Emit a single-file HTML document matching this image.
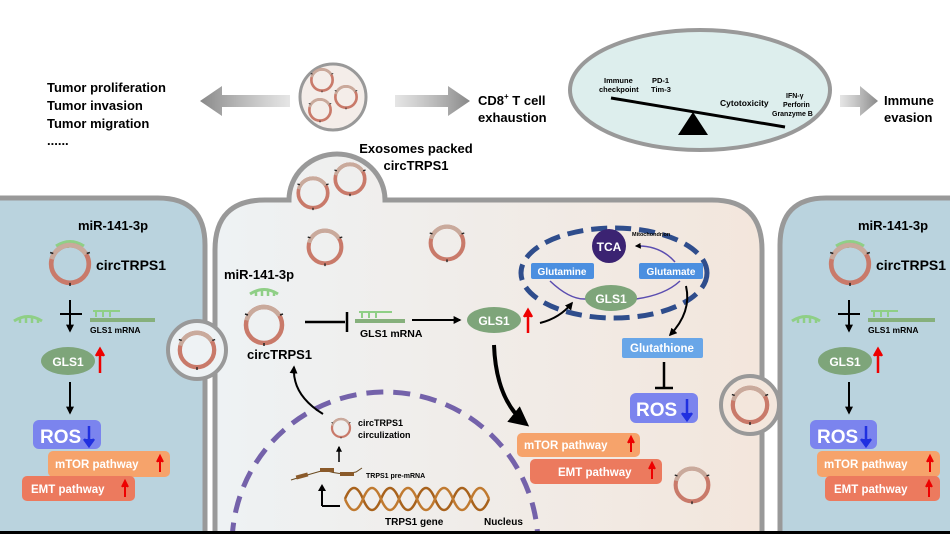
<!DOCTYPE html>
<html><head><meta charset="utf-8"><style>
html,body{margin:0;background:#fff;overflow:hidden;width:950px;height:534px}
svg{display:block}
text{font-family:"Liberation Sans",sans-serif;font-weight:bold}
</style></head><body>
<svg width="950" height="534" viewBox="0 0 950 534" xmlns="http://www.w3.org/2000/svg">
<defs>
<symbol id="ring" viewBox="-22 -22 44 44" overflow="visible">
<circle r="18" fill="none" stroke="#c97a6a" stroke-width="4.5"/>
<circle r="18" fill="none" stroke="#c9aa9c" stroke-width="4.5" stroke-dasharray="42 71" transform="rotate(-165)"/>
<path d="M-16,-10 l-3,-1 M16,-10 l3,-1 M0,18 v3" stroke="#222" stroke-width="1.5"/>
</symbol>
<symbol id="mir" viewBox="-16 -8 32 16" overflow="visible">
<path d="M-14,2 Q0,-7 14,2" fill="none" stroke="#8fcf86" stroke-width="3"/>
<path d="M-8,-1 v5 M-2,-2 v6 M4,-2 v6 M10,0 v4" stroke="#8fcf86" stroke-width="2.5"/>
</symbol>
<marker id="ah" viewBox="0 0 10 10" refX="8" refY="5" markerWidth="5" markerHeight="5" orient="auto"><path d="M0,0 L10,5 L0,10Z" fill="#000"/></marker>
<marker id="ahb" viewBox="0 0 10 10" refX="8" refY="5" markerWidth="4" markerHeight="4" orient="auto"><path d="M0,0 L10,5 L0,10Z" fill="#000"/></marker>
<linearGradient id="gl" x1="1" x2="0"><stop offset="0" stop-color="#aaa" stop-opacity=".3"/><stop offset="1" stop-color="#888"/></linearGradient>
<linearGradient id="gr" x1="0" x2="1"><stop offset="0" stop-color="#aaa" stop-opacity=".3"/><stop offset="1" stop-color="#888"/></linearGradient>
<linearGradient id="mid" x1="0" x2="1"><stop offset="0" stop-color="#eef2f4"/><stop offset="1" stop-color="#f3e6dc"/></linearGradient>
<clipPath id="clip"><rect width="950" height="531"/></clipPath>
</defs>

<!-- top -->
<text font-size="13" x="47" y="92">Tumor proliferation</text>
<text font-size="13" x="47" y="110">Tumor invasion</text>
<text font-size="13" x="47" y="128">Tumor migration</text>
<text font-size="13" x="47" y="145">......</text>
<path d="M290,95 H222 V86 L200,101 L222,116 V107 H290Z" fill="url(#gl)"/>
<circle cx="333" cy="97" r="33" fill="#f4ede9" stroke="#999" stroke-width="3"/>
<use href="#ring" x="309" y="67" width="26" height="26"/>
<use href="#ring" x="333" y="84" width="26" height="26"/>
<use href="#ring" x="307" y="97" width="26" height="26"/>
<path d="M395,95 H448 V86 L470,101 L448,116 V107 H395Z" fill="url(#gr)"/>
<text font-size="13" x="478" y="105">CD8<tspan font-size="8" dy="-6">+</tspan><tspan dy="6"> T cell</tspan></text>
<text font-size="13" x="478" y="122">exhaustion</text>
<ellipse cx="700" cy="90" rx="130" ry="60" fill="#ddeeed" stroke="#999" stroke-width="4"/>
<line x1="611" y1="98" x2="785" y2="127" stroke="#000" stroke-width="3"/>
<path d="M693,112 L678,135 L708,135Z" fill="#000"/>
<text font-size="7.5" x="604" y="83">Immune</text>
<text font-size="7.5" x="599" y="92">checkpoint</text>
<text font-size="7.5" x="652" y="83">PD-1</text>
<text font-size="7.5" x="651" y="92">Tim-3</text>
<text font-size="8.5" x="720" y="106">Cytotoxicity</text>
<text font-size="7" x="786" y="98">IFN-γ</text>
<text font-size="7" x="783" y="107">Perforin</text>
<text font-size="7" x="772" y="116">Granzyme B</text>
<path d="M840,95 H860 V86 L878,101 L860,116 V107 H840Z" fill="url(#gr)"/>
<text font-size="13" x="884" y="105">Immune</text>
<text font-size="13" x="884" y="122">evasion</text>
<text font-size="13" x="416" y="153" text-anchor="middle">Exosomes packed</text>
<text font-size="13" x="416" y="170" text-anchor="middle">circTRPS1</text>

<g clip-path="url(#clip)">
<!-- cells -->
<path d="M-5,198 H158 Q205,198 205,245 V540 H-5Z" fill="#bad3de" stroke="#999" stroke-width="5"/>
<path d="M955,198 H826 Q780,198 780,245 V540 H955Z" fill="#bad3de" stroke="#999" stroke-width="5"/>
<path d="M215,540 V250 Q215,200 265,200 H289 A48,46 0 0 1 385,200 H712 Q762,200 762,250 V540Z" fill="url(#mid)" stroke="#999" stroke-width="5"/>
<circle cx="197" cy="350" r="29" fill="#eef2f4" stroke="#999" stroke-width="4"/>
<circle cx="750" cy="405" r="29" fill="#f3e6dc" stroke="#999" stroke-width="4"/>

<!-- rings middle -->
<use href="#ring" x="176" y="329" width="42" height="42"/>
<use href="#ring" x="729" y="384" width="42" height="42"/>
<use href="#ring" x="295" y="175" width="36" height="36"/>
<use href="#ring" x="332" y="161" width="36" height="36"/>
<use href="#ring" x="305" y="227" width="40" height="40"/>
<use href="#ring" x="427" y="223" width="40" height="40"/>
<use href="#ring" x="672" y="465" width="40" height="40"/>
<use href="#ring" x="242" y="303" width="44" height="44"/>
<use href="#mir" x="248" y="284" width="32" height="16"/>
<text font-size="13" x="224" y="279">miR-141-3p</text>
<text font-size="13" x="247" y="359">circTRPS1</text>
<path d="M305,322 H345 M347,312 V332" stroke="#000" stroke-width="2.5"/>
<path d="M355,321 H405" stroke="#86b07c" stroke-width="4"/>
<path d="M362,318 v-6 M369,318 v-6 M376,318 v-6 M359,312 H392" stroke="#8fcf86" stroke-width="2"/>
<text font-size="10.5" x="360" y="337">GLS1 mRNA</text>
<line x1="412" y1="320" x2="460" y2="320" stroke="#000" stroke-width="2" marker-end="url(#ahb)"/>
<ellipse cx="494" cy="320" rx="27" ry="13" fill="#7ea57a"/>
<text font-size="12" x="494" y="325" fill="#fff" text-anchor="middle">GLS1</text>
<path d="M528,333 V313 M524,317 L528,310 L532,317" stroke="#e00" stroke-width="2.5" fill="#e00"/>
<path d="M540,323 Q560,318 572,303" fill="none" stroke="#000" stroke-width="2" marker-end="url(#ahb)"/>

<!-- mitochondrion -->
<ellipse cx="614" cy="273" rx="93" ry="45" fill="none" stroke="#2f4d8c" stroke-width="5" stroke-dasharray="16 8"/>
<path d="M550,281 Q570,300 586,299 M636,299 Q665,295 680,281" fill="none" stroke="#5b4db0" stroke-width="1.5"/>
<path d="M675,262 Q660,245 636,246" fill="none" stroke="#5b4db0" stroke-width="1.5" marker-end="url(#ahb)"/>
<circle cx="609" cy="246" r="17" fill="#3b2372"/>
<text font-size="12" x="609" y="251" fill="#fff" text-anchor="middle">TCA</text>
<text font-size="5.5" x="632" y="236">Mitochondrion</text>
<rect x="531" y="263" width="63" height="16" rx="2" fill="#4b8fe0"/>
<text font-size="10" x="562" y="275" fill="#fff" text-anchor="middle">Glutamine</text>
<rect x="639" y="263" width="64" height="16" rx="2" fill="#4b8fe0"/>
<text font-size="10" x="671" y="275" fill="#fff" text-anchor="middle">Glutamate</text>
<ellipse cx="611" cy="298" rx="26" ry="13" fill="#7ea57a"/>
<text font-size="12" x="611" y="303" fill="#fff" text-anchor="middle">GLS1</text>
<path d="M686,286 Q692,312 670,335" fill="none" stroke="#000" stroke-width="2" marker-end="url(#ahb)"/>
<rect x="622" y="338" width="81" height="20" rx="2" fill="#68a6e8"/>
<text font-size="11.5" x="662" y="352" fill="#fff" text-anchor="middle">Glutathione</text>
<path d="M664,362 V387 M655,388 H673" stroke="#000" stroke-width="2.5"/>
<rect x="630" y="393" width="68" height="30" rx="6" fill="#7b84ee"/>
<text font-size="19" x="636" y="416" fill="#fff">ROS</text>
<path d="M687,399 V418 M682,413 L687,420 L692,413" stroke="#2030e0" stroke-width="2.5" fill="#2030e0"/>
<path d="M494,345 Q496,400 526,424" fill="none" stroke="#000" stroke-width="4" marker-end="url(#ah)"/>
<rect x="517" y="433" width="123" height="24" rx="5" fill="#f6a36b"/>
<text font-size="11.5" x="524" y="449" fill="#fff">mTOR pathway</text>
<path d="M631,452 V439 M628,443 L631,437 L634,443" stroke="#e00" stroke-width="2" fill="#e00"/>
<rect x="530" y="459" width="132" height="25" rx="5" fill="#ec7a5e"/>
<text font-size="11.5" x="558" y="476" fill="#fff">EMT pathway</text>
<path d="M652,479 V465 M649,469 L652,463 L655,469" stroke="#e00" stroke-width="2" fill="#e00"/>

<!-- nucleus -->
<circle cx="385" cy="545" r="153" fill="none" stroke="#7462aa" stroke-width="5" stroke-dasharray="17 10"/>
<path d="M323,414 Q292,395 294,367" fill="none" stroke="#000" stroke-width="2" marker-end="url(#ahb)"/>
<use href="#ring" x="330" y="417" width="22" height="22"/>
<text font-size="9" x="358" y="426">circTRPS1</text>
<text font-size="9" x="358" y="438">circulization</text>
<line x1="339" y1="462" x2="339" y2="447" stroke="#000" stroke-width="1.5" marker-end="url(#ahb)"/>
<path d="M291,480 Q310,474 325,470 Q340,476 356,472 L362,468" fill="none" stroke="#6a4a20" stroke-width="1"/>
<rect x="296" y="474" width="12" height="4" fill="#8a5a2a" transform="rotate(-15 302 476)"/>
<rect x="320" y="468" width="14" height="4" fill="#8a5a2a"/>
<rect x="340" y="472" width="14" height="4" fill="#8a5a2a"/>
<text font-size="7" x="366" y="478">TRPS1 pre-mRNA</text>
<path d="M345,499 q9,-22 18,0 t18,0 t18,0 t18,0 t18,0 t18,0 t18,0 t18,0" fill="none" stroke="#a8621c" stroke-width="2.5"/>
<path d="M345,499 q9,22 18,0 t18,0 t18,0 t18,0 t18,0 t18,0 t18,0 t18,0" fill="none" stroke="#c07a30" stroke-width="2.5"/>
<path d="M322,506 H340 M322,506 V489" fill="none" stroke="#000" stroke-width="2"/>
<path d="M318,491 L322,484 L326,491Z" fill="#000"/>
<text font-size="10" x="385" y="525">TRPS1 gene</text>
<text font-size="10" x="484" y="525">Nucleus</text>

<!-- left cell -->
<text font-size="13" x="78" y="230">miR-141-3p</text>
<use href="#mir" x="54" y="236" width="32" height="16"/>
<use href="#ring" x="47" y="241" width="46" height="46"/>
<text font-size="14" x="96" y="270">circTRPS1</text>
<use href="#mir" x="12" y="311" width="32" height="16"/>
<path d="M60,314 H82" stroke="#000" stroke-width="2"/>
<line x1="70" y1="300" x2="70" y2="331" stroke="#000" stroke-width="2" marker-end="url(#ahb)"/>
<path d="M90,320 H155" stroke="#86b07c" stroke-width="4"/>
<path d="M96,317 v-5 M103,317 v-5 M110,317 v-5 M93,311 H120" stroke="#8fcf86" stroke-width="2"/>
<text font-size="8.5" x="90" y="333">GLS1 mRNA</text>
<ellipse cx="68" cy="361" rx="27" ry="14" fill="#7ea57a"/>
<text font-size="12" x="68" y="366" fill="#fff" text-anchor="middle">GLS1</text>
<path d="M100,373 V352 M96,356 L100,349 L104,356" stroke="#e00" stroke-width="2.5" fill="#e00"/>
<line x1="70" y1="382" x2="70" y2="413" stroke="#000" stroke-width="2" marker-end="url(#ahb)"/>
<rect x="33" y="420" width="68" height="29" rx="6" fill="#7b84ee"/>
<text font-size="19" x="40" y="443" fill="#fff">ROS</text>
<path d="M89,426 V444 M84,439 L89,446 L94,439" stroke="#2030e0" stroke-width="2.5" fill="#2030e0"/>
<rect x="48" y="451" width="122" height="26" rx="5" fill="#f6a36b"/>
<text font-size="11.5" x="55" y="468" fill="#fff">mTOR pathway</text>
<path d="M160,472 V458 M157,462 L160,456 L163,462" stroke="#e00" stroke-width="2" fill="#e00"/>
<rect x="22" y="476" width="113" height="25" rx="5" fill="#ec7a5e"/>
<text font-size="11.5" x="31" y="493" fill="#fff">EMT pathway</text>
<path d="M125,497 V483 M122,487 L125,481 L128,487" stroke="#e00" stroke-width="2" fill="#e00"/>

<!-- right cell -->
<text font-size="13" x="858" y="230">miR-141-3p</text>
<use href="#mir" x="834" y="236" width="32" height="16"/>
<use href="#ring" x="827" y="241" width="46" height="46"/>
<text font-size="14" x="876" y="270">circTRPS1</text>
<use href="#mir" x="790" y="311" width="32" height="16"/>
<path d="M838,314 H860" stroke="#000" stroke-width="2"/>
<line x1="849" y1="300" x2="849" y2="331" stroke="#000" stroke-width="2" marker-end="url(#ahb)"/>
<path d="M868,320 H935" stroke="#86b07c" stroke-width="4"/>
<path d="M874,317 v-5 M881,317 v-5 M888,317 v-5 M871,311 H898" stroke="#8fcf86" stroke-width="2"/>
<text font-size="8.5" x="868" y="333">GLS1 mRNA</text>
<ellipse cx="845" cy="361" rx="27" ry="14" fill="#7ea57a"/>
<text font-size="12" x="845" y="366" fill="#fff" text-anchor="middle">GLS1</text>
<path d="M878,373 V352 M874,356 L878,349 L882,356" stroke="#e00" stroke-width="2.5" fill="#e00"/>
<line x1="849" y1="382" x2="849" y2="413" stroke="#000" stroke-width="2" marker-end="url(#ahb)"/>
<rect x="810" y="420" width="67" height="29" rx="6" fill="#7b84ee"/>
<text font-size="19" x="817" y="443" fill="#fff">ROS</text>
<path d="M866,426 V444 M861,439 L866,446 L871,439" stroke="#2030e0" stroke-width="2.5" fill="#2030e0"/>
<rect x="817" y="451" width="123" height="26" rx="5" fill="#f6a36b"/>
<text font-size="11.5" x="824" y="468" fill="#fff">mTOR pathway</text>
<path d="M930,472 V458 M927,462 L930,456 L933,462" stroke="#e00" stroke-width="2" fill="#e00"/>
<rect x="825" y="476" width="115" height="25" rx="5" fill="#ec7a5e"/>
<text font-size="11.5" x="834" y="493" fill="#fff">EMT pathway</text>
<path d="M929,497 V483 M926,487 L929,481 L932,487" stroke="#e00" stroke-width="2" fill="#e00"/>
</g>
<rect x="0" y="531" width="950" height="3" fill="#000"/>
</svg>
</body></html>
